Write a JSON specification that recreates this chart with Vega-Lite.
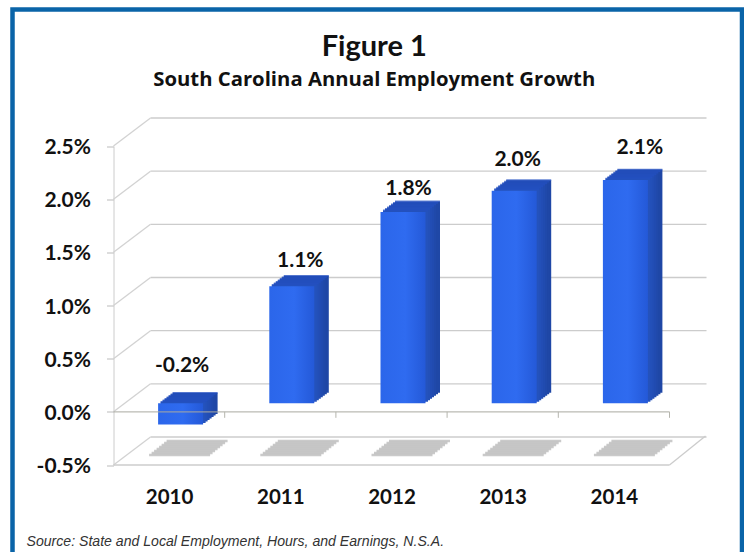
{
"$schema":"https://vega.github.io/schema/vega-lite/v6.json",
"autosize":"none",
"padding":{"left":12.5,"top":9.5,"right":2,"bottom":0},
"width":729.5,"height":545,
"background":"white",
"view":{"stroke":"#0a64a8","strokeWidth":4.5,"fill":"white"},
"config":{"axis":{"grid":false}},
"title":{"text":"Figure 1","subtitle":"South Carolina Annual Employment Growth","anchor":"middle","frame":"group","orient":"top","offset":-81,"dx":-3,"font":"Lato","fontSize":29,"fontWeight":"bold","color":"#111111","subtitleFont":"Open Sans","subtitleFontSize":20.3,"subtitleFontWeight":"bold","subtitleColor":"#111111","subtitlePadding":8},
"datasets":{
"bars":[{"year":2010,"value":-0.002},{"year":2011,"value":0.011},{"year":2012,"value":0.018},{"year":2013,"value":0.02},{"year":2014,"value":0.021}],
"levels":[{"level":-0.005},{"level":0},{"level":0.005},{"level":0.01},{"level":0.015},{"level":0.02},{"level":0.025}],
"edges":[{"edge":2010.5},{"edge":2011.5},{"edge":2012.5},{"edge":2013.5},{"edge":2014.5}]
},
"layer":[
{"data":{"name":"levels"},"mark":{"type":"rule","stroke":"#cccccc","strokeWidth":1.3,"xOffset":37,"x2Offset":37,"yOffset":-28},"encoding":{"x":{"datum":2009.5},"x2":{"datum":2014.5},"y":{"field":"level","type":"quantitative"}}},
{"data":{"name":"levels"},"mark":{"type":"rule","stroke":"#d2d2d2","strokeWidth":1.3,"x2Offset":37,"y2Offset":-28},"encoding":{"x":{"datum":2009.5},"x2":{"datum":2009.5},"y":{"field":"level","type":"quantitative"},"y2":{"field":"level"}}},
{"data":{"values":[{"level":-0.005}]},"mark":{"type":"rule","stroke":"#cccccc","strokeWidth":1.3},"encoding":{"x":{"datum":2009.5},"x2":{"datum":2014.5},"y":{"field":"level","type":"quantitative"}}},
{"data":{"values":[{"level":-0.005}]},"mark":{"type":"rule","stroke":"#cccccc","strokeWidth":1.3,"x2Offset":36,"y2Offset":-29},"encoding":{"x":{"datum":2014.5},"x2":{"datum":2014.5},"y":{"field":"level","type":"quantitative"},"y2":{"field":"level"}}},
{
"data":{"name":"bars"},
"encoding":{
"x":{"field":"year","type":"quantitative","scale":{"domain":[2009.5,2014.5],"range":[101,657],"nice":false,"zero":false,"padding":0},
"axis":{"title":"Source: State and Local Employment, Hours, and Earnings, N.S.A.","titleFont":"Liberation Sans","titleFontStyle":"italic","titleFontWeight":"normal","titleFontSize":14.1,"titleColor":"#333333","titleAnchor":"start","titleAlign":"left","titleBaseline":"alphabetic","titleX":13.5,"titleY":58,"values":[2010,2011,2012,2013,2014],"format":"d","domain":false,"ticks":false,"offset":-67,"labelPadding":0,"labelFont":"Lato","labelFontSize":20.5,"labelFontWeight":"bold","labelColor":"#111111","labelBaseline":"top","labelFlush":false,"labelOverlap":false}},
"y":{"field":"value","type":"quantitative","scale":{"domain":[-0.005,0.025],"range":[455.5,136.5],"nice":false,"zero":false},
"axis":{"title":null,"values":[-0.005,0,0.005,0.01,0.015,0.02,0.025],"labelExpr":"replace(format(datum.value,'.1%'),'\u2212','-')","offset":-101,"domainColor":"#cccccc","tickColor":"#bbbbbb","tickSize":7,"labelPadding":16,"labelOffset":1.5,"labelFont":"Lato","labelFontSize":21,"labelFontWeight":"bold","labelColor":"#111111","labelOverlap":false}}
},
"layer":[
{"mark":{"type":"tick","orient":"horizontal","size":61,"thickness":2.4,"color":"#b4b4b4","xOffset":28,"yOffset":-24},"encoding":{"y":{"datum":-0.005}}},
{"mark":{"type":"tick","orient":"horizontal","size":61,"thickness":2.4,"color":"#b4b4b4","xOffset":25.5,"yOffset":-22},"encoding":{"y":{"datum":-0.005}}},
{"mark":{"type":"tick","orient":"horizontal","size":61,"thickness":2.4,"color":"#b4b4b4","xOffset":23,"yOffset":-20},"encoding":{"y":{"datum":-0.005}}},
{"mark":{"type":"tick","orient":"horizontal","size":61,"thickness":2.4,"color":"#b4b4b4","xOffset":20.5,"yOffset":-18},"encoding":{"y":{"datum":-0.005}}},
{"mark":{"type":"tick","orient":"horizontal","size":61,"thickness":2.4,"color":"#b4b4b4","xOffset":18,"yOffset":-16},"encoding":{"y":{"datum":-0.005}}},
{"mark":{"type":"tick","orient":"horizontal","size":61,"thickness":2.4,"color":"#b4b4b4","xOffset":15.5,"yOffset":-14},"encoding":{"y":{"datum":-0.005}}},
{"mark":{"type":"tick","orient":"horizontal","size":61,"thickness":2.4,"color":"#b4b4b4","xOffset":13,"yOffset":-12},"encoding":{"y":{"datum":-0.005}}},
{"mark":{"type":"tick","orient":"horizontal","size":61,"thickness":2.4,"color":"#b4b4b4","xOffset":10.5,"yOffset":-10},"encoding":{"y":{"datum":-0.005}}},

{"mark":{"type":"bar","orient":"vertical","width":45,"color":"#1f47a6","xOffset":26,"x2Offset":26,"yOffset":-19,"y2Offset":-19},"encoding":{"y2":{"datum":0}}},
{"mark":{"type":"bar","orient":"vertical","width":45,"color":"#1f47a6","xOffset":24,"x2Offset":24,"yOffset":-17.5,"y2Offset":-17.5},"encoding":{"y2":{"datum":0}}},
{"mark":{"type":"bar","orient":"vertical","width":45,"color":"#2049aa","xOffset":22,"x2Offset":22,"yOffset":-16,"y2Offset":-16},"encoding":{"y2":{"datum":0}}},
{"mark":{"type":"bar","orient":"vertical","width":45,"color":"#214bb0","xOffset":20,"x2Offset":20,"yOffset":-14.5,"y2Offset":-14.5},"encoding":{"y2":{"datum":0}}},
{"mark":{"type":"bar","orient":"vertical","width":45,"color":"#224db4","xOffset":18,"x2Offset":18,"yOffset":-13,"y2Offset":-13},"encoding":{"y2":{"datum":0}}},
{"mark":{"type":"bar","orient":"vertical","width":45,"color":"#2350b8","xOffset":16,"x2Offset":16,"yOffset":-11.5,"y2Offset":-11.5},"encoding":{"y2":{"datum":0}}},
{"mark":{"type":"bar","orient":"vertical","width":45,"color":"#2452bc","xOffset":14,"x2Offset":14,"yOffset":-10,"y2Offset":-10},"encoding":{"y2":{"datum":0}}},

{"transform":[{"calculate":"max(datum.value,0)","as":"top"}],"mark":{"type":"tick","orient":"horizontal","size":45,"thickness":1.8,"color":"#2450c2","xOffset":26,"yOffset":-19},"encoding":{"y":{"field":"top","type":"quantitative"}}},
{"transform":[{"calculate":"max(datum.value,0)","as":"top"}],"mark":{"type":"tick","orient":"horizontal","size":45,"thickness":1.8,"color":"#2450c2","xOffset":24,"yOffset":-17.5},"encoding":{"y":{"field":"top","type":"quantitative"}}},
{"transform":[{"calculate":"max(datum.value,0)","as":"top"}],"mark":{"type":"tick","orient":"horizontal","size":45,"thickness":1.8,"color":"#2450c2","xOffset":22,"yOffset":-16},"encoding":{"y":{"field":"top","type":"quantitative"}}},
{"transform":[{"calculate":"max(datum.value,0)","as":"top"}],"mark":{"type":"tick","orient":"horizontal","size":45,"thickness":1.8,"color":"#2450c2","xOffset":20,"yOffset":-14.5},"encoding":{"y":{"field":"top","type":"quantitative"}}},
{"transform":[{"calculate":"max(datum.value,0)","as":"top"}],"mark":{"type":"tick","orient":"horizontal","size":45,"thickness":1.8,"color":"#2450c2","xOffset":18,"yOffset":-13},"encoding":{"y":{"field":"top","type":"quantitative"}}},
{"transform":[{"calculate":"max(datum.value,0)","as":"top"}],"mark":{"type":"tick","orient":"horizontal","size":45,"thickness":1.8,"color":"#2450c2","xOffset":16,"yOffset":-11.5},"encoding":{"y":{"field":"top","type":"quantitative"}}},
{"transform":[{"calculate":"max(datum.value,0)","as":"top"}],"mark":{"type":"tick","orient":"horizontal","size":45,"thickness":1.8,"color":"#2450c2","xOffset":14,"yOffset":-10},"encoding":{"y":{"field":"top","type":"quantitative"}}},

{"mark":{"type":"bar","orient":"vertical","width":45,"color":{"gradient":"linear","x1":0,"y1":0,"x2":1,"y2":0,"stops":[{"offset":0,"color":"#2b66ea"},{"offset":0.55,"color":"#2f6bf0"},{"offset":1,"color":"#2459d8"}]},"xOffset":11.5,"x2Offset":11.5,"yOffset":-8.5,"y2Offset":-8.5},"encoding":{"y2":{"datum":0}}},

{"transform":[{"filter":"datum.year==2010"},{"calculate":"replace(format(datum.value,'.1%'),'\u2212','-')","as":"label"}],"mark":{"type":"text","font":"Lato","fontSize":21,"fontWeight":"bold","color":"#111111","dx":13,"dy":-67},"encoding":{"text":{"field":"label"}}},
{"transform":[{"filter":"datum.year==2011"}],"mark":{"type":"text","font":"Lato","fontSize":21,"fontWeight":"bold","color":"#111111","dx":20,"dy":-34},"encoding":{"text":{"field":"value","type":"quantitative","format":".1%"}}},
{"transform":[{"filter":"datum.year==2012"}],"mark":{"type":"text","font":"Lato","fontSize":21,"fontWeight":"bold","color":"#111111","dx":17,"dy":-31},"encoding":{"text":{"field":"value","type":"quantitative","format":".1%"}}},
{"transform":[{"filter":"datum.year==2013"}],"mark":{"type":"text","font":"Lato","fontSize":21,"fontWeight":"bold","color":"#111111","dx":15,"dy":-39},"encoding":{"text":{"field":"value","type":"quantitative","format":".1%"}}},
{"transform":[{"filter":"datum.year==2014"}],"mark":{"type":"text","font":"Lato","fontSize":21,"fontWeight":"bold","color":"#111111","dx":26,"dy":-41},"encoding":{"text":{"field":"value","type":"quantitative","format":".1%"}}}
]
},
{"data":{"values":[{"level":0}]},"mark":{"type":"rule","stroke":"#a9a9a0","strokeWidth":1.2,"opacity":0.8},"encoding":{"x":{"datum":2009.5},"x2":{"datum":2014.5},"y":{"field":"level","type":"quantitative"}}},
{"data":{"name":"edges"},"mark":{"type":"rule","stroke":"#b5b5ad","strokeWidth":1,"y2Offset":6},"encoding":{"x":{"field":"edge","type":"quantitative"},"y":{"datum":0},"y2":{"datum":0}}}
]
}
